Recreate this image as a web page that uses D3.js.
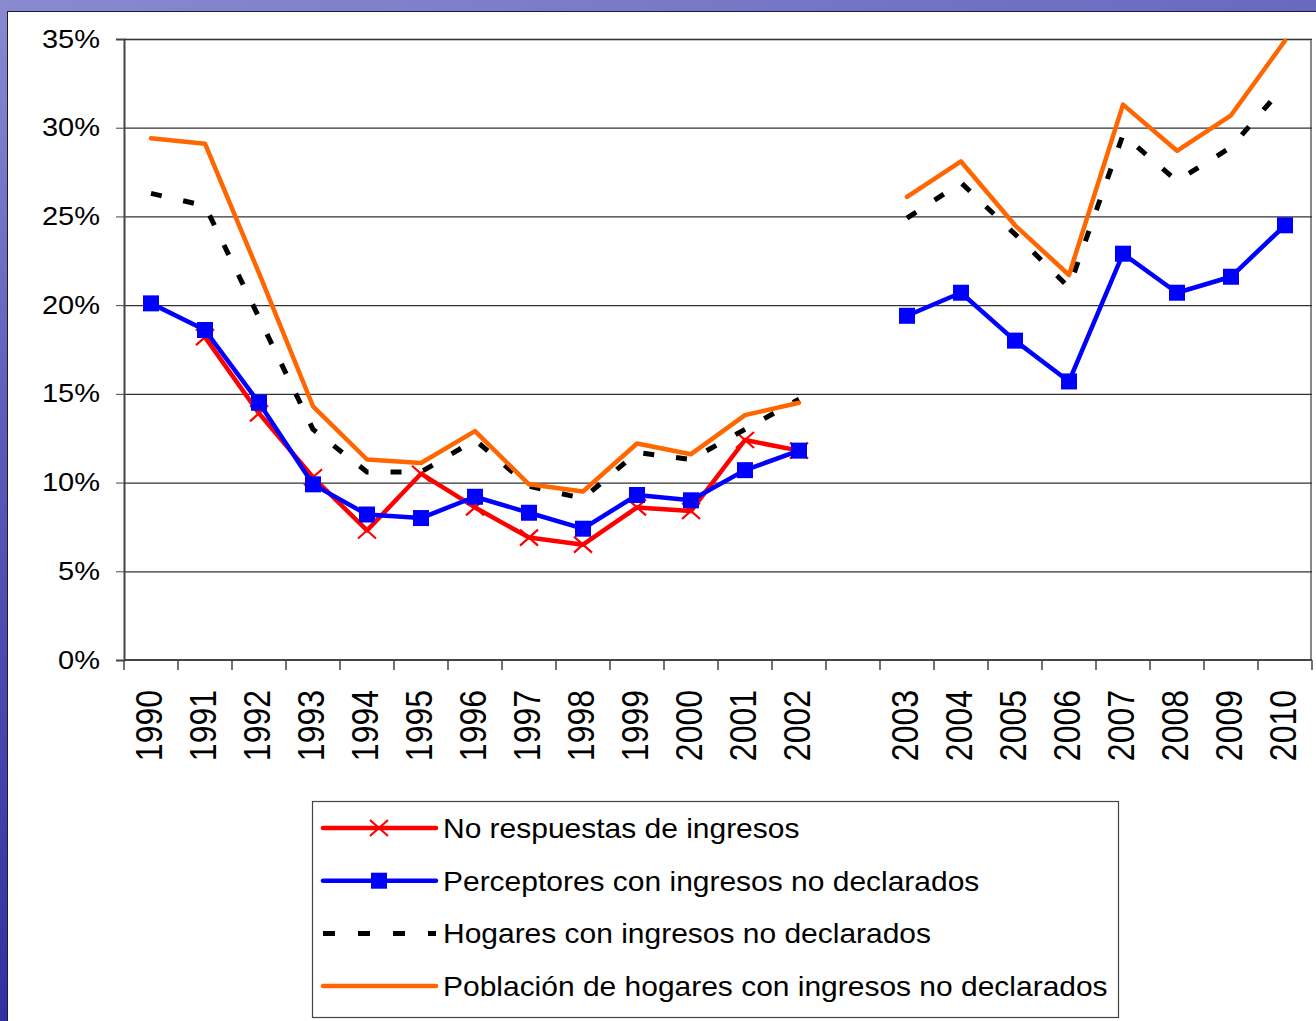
<!DOCTYPE html>
<html>
<head>
<meta charset="utf-8">
<script src="https://cdn.jsdelivr.net/npm/d3@7"></script>
<style>
  body { margin: 0; padding: 0; overflow: hidden; }
  text { font-family: "Liberation Sans", Arial, sans-serif; fill: #000; }
</style>
</head>
<body>
<script>
// categories (a blank slot separates the two survey periods)
var categories = ["1990", "1991", "1992", "1993", "1994", "1995", "1996", "1997", "1998", "1999", "2000", "2001", "2002", "gap",
  "2003", "2004", "2005", "2006", "2007", "2008", "2009", "2010"];

// series values in percent, null where there is no point
var noRespuestas = [null, 18.2, 13.9, 10.3, 7.3, 10.5, 8.6, 6.9, 6.5, 8.6, 8.4, 12.4, 11.8, null,
  null, null, null, null, null, null, null, null];
var perceptores = [20.1, 18.6, 14.5, 9.9, 8.2, 8.0, 9.2, 8.3, 7.4, 9.3, 9.0, 10.7, 11.8, null,
  19.4, 20.7, 18.0, 15.7, 22.9, 20.7, 21.6, 24.5];
var hogares = [26.3, 25.6, 19.3, 13.0, 10.6, 10.6, 12.4, 9.8, 9.1, 11.7, 11.3, 13.0, 14.7, null,
  24.9, 26.9, 24.0, 21.0, 29.6, 27.0, 28.9, 32.4];
var poblacion = [29.4, 29.1, 21.8, 14.3, 11.3, 11.1, 12.9, 9.9, 9.5, 12.2, 11.6, 13.8, 14.5, null,
  26.1, 28.1, 24.5, 21.7, 31.3, 28.7, 30.7, 34.9];

var yTicks = [0, 5, 10, 15, 20, 25, 30, 35];

var legendLabels = ["No respuestas de ingresos", "Perceptores con ingresos no declarados",
  "Hogares con ingresos no declarados", "Población de hogares con ingresos no declarados"];

var svgWidth = 1316;
var svgHeight = 1021;
var margin = { top: 39, right: 4, bottom: 361, left: 124 };
var width = svgWidth - margin.left - margin.right;
var height = svgHeight - margin.top - margin.bottom;

// the original slide was stretched sideways, so text is wider than it is tall
var stretch = 1.16;

var svg = d3.select("body")
  .append("svg")
  .attr("width", svgWidth)
  .attr("height", svgHeight);

// slide background
var defs = svg.append("defs");
var grad = defs.append("linearGradient")
  .attr("id", "bg")
  .attr("x1", "0").attr("y1", "0").attr("x2", "0.3").attr("y2", "1");
grad.append("stop").attr("offset", "0%").attr("stop-color", "#8a8ad0");
grad.append("stop").attr("offset", "40%").attr("stop-color", "#5a5ab8");
grad.append("stop").attr("offset", "100%").attr("stop-color", "#2a2a9c");

svg.append("rect")
  .attr("width", svgWidth)
  .attr("height", svgHeight)
  .attr("fill", "url(#bg)");

svg.append("rect")
  .attr("x", 7.5)
  .attr("y", 11.5)
  .attr("width", svgWidth)
  .attr("height", svgHeight)
  .attr("fill", "#fff")
  .attr("stroke", "#1a1a40")
  .attr("stroke-width", 1);

var chartGroup = svg.append("g")
  .attr("transform", `translate(${margin.left}, ${margin.top})`);

// scales
var xScale = d3.scaleBand()
  .domain(categories)
  .range([0, width]);

var yScale = d3.scaleLinear()
  .domain([0, 35])
  .range([height, 0]);

// plot frame (top and right edge)
chartGroup.append("path")
  .attr("d", `M0,0.5H${width - 1}V${height}`)
  .attr("fill", "none")
  .attr("stroke", "#888")
  .attr("stroke-width", 2);

// gridlines
chartGroup.append("g")
  .call(d3.axisLeft(yScale).tickValues(yTicks.slice(1)).tickSize(-width).tickFormat(""))
  .call(g => g.select(".domain").remove())
  .call(g => g.selectAll("line").attr("stroke", "#333").attr("stroke-width", 1.2));

// y axis
chartGroup.append("g")
  .call(d3.axisLeft(yScale).tickValues(yTicks).tickSize(8).tickPadding(16)
    .tickFormat(d => d + "%"))
  .call(g => g.select(".domain").attr("stroke", "#444").attr("stroke-width", 2))
  .call(g => g.selectAll("line").attr("stroke", "#444"))
  .call(g => g.selectAll("text")
    .style("font-size", "25px")
    .attr("x", null)
    .attr("transform", `translate(-24, 0) scale(${stretch}, 1)`));

// x axis: boundary ticks + rotated labels
var xAxisG = chartGroup.append("g")
  .attr("transform", `translate(0, ${height})`);

xAxisG.append("line")
  .attr("x1", 0).attr("x2", width)
  .attr("stroke", "#444").attr("stroke-width", 2);

xAxisG.selectAll(".xtick")
  .data(d3.range(categories.length + 1))
  .enter()
  .append("line")
  .attr("class", "xtick")
  .attr("x1", i => i * xScale.step())
  .attr("x2", i => i * xScale.step())
  .attr("y1", 0).attr("y2", 10)
  .attr("stroke", "#444").attr("stroke-width", 1.5);

xAxisG.selectAll(".xlabel")
  .data(categories.filter(c => c !== "gap"))
  .enter()
  .append("text")
  .attr("class", "xlabel")
  .attr("transform", d => `translate(${xScale(d) + xScale.bandwidth() / 2 + 11}, 30) rotate(-90) scale(1, ${stretch})`)
  .attr("text-anchor", "end")
  .style("font-size", "32px")
  .text(d => d);

// series
var series = [
  { values: noRespuestas, color: "#ff0000", width: 4.5, dash: null, marker: "x" },
  { values: perceptores, color: "#0000ff", width: 4.5, dash: null, marker: "square" },
  { values: hogares, color: "#000", width: 5, dash: "11,22", marker: null },
  { values: poblacion, color: "#ff6600", width: 4.5, dash: null, marker: null }
];

var line = d3.line()
  .defined(d => d.v !== null)
  .x(d => xScale(d.c) + xScale.bandwidth() / 2)
  .y(d => yScale(d.v));

function drawMarker(g, kind, color) {
  if (kind === "square") {
    g.append("rect")
      .attr("x", -8).attr("y", -8)
      .attr("width", 16).attr("height", 16)
      .attr("fill", color);
  } else if (kind === "x") {
    g.append("path")
      .attr("d", "M-9,-8L9,8M-9,8L9,-8")
      .attr("stroke", color)
      .attr("stroke-width", 2.2);
  }
}

series.forEach(function (s) {
  var pts = categories.map((c, i) => ({ c: c, v: s.values[i] }));
  chartGroup.append("path")
    .datum(pts)
    .attr("d", line)
    .attr("fill", "none")
    .attr("stroke", s.color)
    .attr("stroke-width", s.width)
    .attr("stroke-linejoin", "round")
    .attr("stroke-linecap", s.dash ? "butt" : "round")
    .attr("stroke-dasharray", s.dash);

  if (s.marker) {
    pts.filter(d => d.v !== null).forEach(function (d) {
      var g = chartGroup.append("g")
        .attr("transform", `translate(${xScale(d.c) + xScale.bandwidth() / 2}, ${yScale(d.v)})`);
      drawMarker(g, s.marker, s.color);
    });
  }
});

// legend
var legend = svg.append("g")
  .attr("transform", "translate(312, 801)");

legend.append("rect")
  .attr("x", 0.5).attr("y", 0.5)
  .attr("width", 806).attr("height", 216)
  .attr("fill", "#fff")
  .attr("stroke", "#444")
  .attr("stroke-width", 1.2);

legendLabels.forEach(function (label, i) {
  var s = series[i];
  var yPos = 27 + i * 52.7;
  legend.append("line")
    .attr("x1", 11).attr("x2", 124)
    .attr("y1", yPos).attr("y2", yPos)
    .attr("stroke", s.color)
    .attr("stroke-width", s.dash ? 5 : 4.5)
    .attr("stroke-linecap", s.dash ? "butt" : "round")
    .attr("stroke-dasharray", s.dash ? "12,23" : null);
  if (s.marker) {
    var g = legend.append("g").attr("transform", `translate(67, ${yPos})`);
    drawMarker(g, s.marker, s.color);
  }
  legend.append("text")
    .attr("transform", `translate(131, ${yPos + 10}) scale(1.11, 1)`)
    .style("font-size", "27px")
    .text(label);
});
</script>
</body>
</html>
